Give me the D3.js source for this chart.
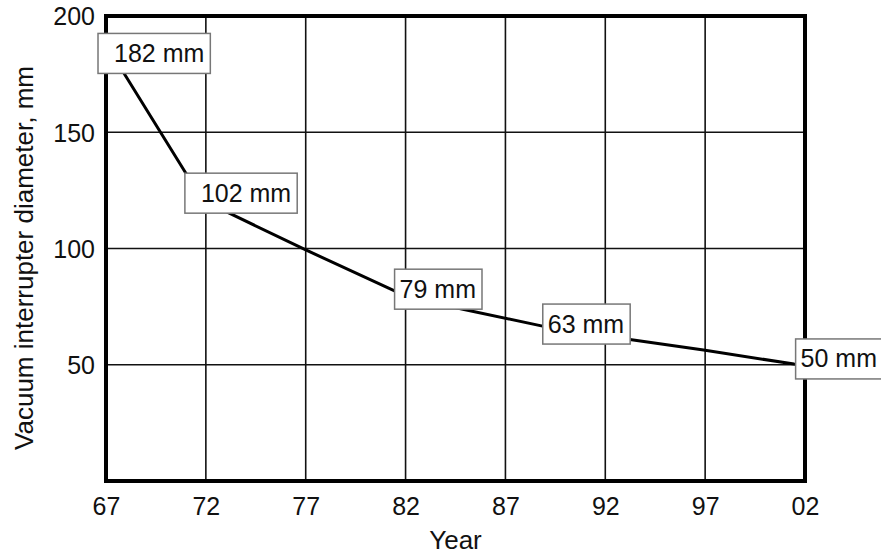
<!DOCTYPE html>
<html>
<head>
<meta charset="utf-8">
<script src="https://cdn.jsdelivr.net/npm/d3@7"></script>
<style>
  html, body { margin: 0; padding: 0; background: #fff; }
  svg { display: block; }
  text { font-family: "Liberation Sans", Arial, Helvetica, sans-serif; fill: #111; }
</style>
</head>
<body>
<svg id="chart" width="881" height="554"></svg>
<script>
// ---- data ----
const xTickYears = [67, 72, 77, 82, 87, 92, 97, 102];
const xTickLabels = ["67", "72", "77", "82", "87", "92", "97", "02"];
const yTickValues = [50, 100, 150, 200];

// curve (year, diameter mm)
const curveYears  = [67.35, 71.0, 72.05, 73.12, 76.95, 81.45, 82.95, 84.87, 88.86, 93.23, 96.92, 101.45, 102];
const curveValues = [183,   132.4, 122.5, 115.4, 99.6,  81.8,  77.5,  73.9,  66.6,  60.9,  56.3,  50.3,  50];

// annotation labels: text, anchor (left edge year, vertical centre value)
const labelTexts  = ["182 mm", "102 mm", "79 mm", "63 mm", "50 mm"];
const labelYears  = [66.6, 70.95, 81.45, 88.87, 101.53];
const labelValues = [183.9, 123.8, 82.5, 67.5, 52.5];
const labelPadLeft = [16, 16, 5, 5, 5];

const xTitle = "Year";
const yTitle = "Vacuum interrupter diameter, mm";

// ---- layout ----
const svg = d3.select("#chart");
const mLeft = 106, mRight = 805, mTop = 16, mBottom = 481;

const x = d3.scaleLinear().domain([67, 102]).range([mLeft, mRight]);
const y = d3.scaleLinear().domain([0, 200]).range([mBottom, mTop]);

// grid lines
const grid = svg.append("g");
grid.selectAll("line.v").data(xTickYears.slice(1, -1)).join("line")
  .attr("class", "v")
  .attr("x1", d => x(d)).attr("x2", d => x(d))
  .attr("y1", mTop).attr("y2", mBottom)
  .attr("stroke", "#111").attr("stroke-width", 1.6);
grid.selectAll("line.h").data(yTickValues.slice(0, -1)).join("line")
  .attr("class", "h")
  .attr("x1", mLeft).attr("x2", mRight)
  .attr("y1", d => y(d)).attr("y2", d => y(d))
  .attr("stroke", "#111").attr("stroke-width", 1.6);

// axes (labels only, via d3 axis)
const xAxis = svg.append("g").attr("transform", `translate(0,${mBottom})`)
  .call(d3.axisBottom(x).tickValues(xTickYears).tickSize(0).tickPadding(0)
    .tickFormat((d, i) => xTickLabels[i]));
xAxis.select(".domain").remove();
xAxis.selectAll("text").attr("dy", null).attr("y", 34)
  .style("font-size", "25px").style("font-family", "Liberation Sans, Arial, sans-serif").attr("fill", "#111");

const yAxis = svg.append("g").attr("transform", `translate(${mLeft},0)`)
  .call(d3.axisLeft(y).tickValues(yTickValues).tickSize(0).tickPadding(11));
yAxis.select(".domain").remove();
yAxis.selectAll("text").attr("dy", "0.35em")
  .style("font-size", "25px").style("font-family", "Liberation Sans, Arial, sans-serif").attr("fill", "#111");

// curve
const pts = curveYears.map((yr, i) => [yr, curveValues[i]]);
svg.append("path")
  .datum(pts)
  .attr("d", d3.line().x(d => x(d[0])).y(d => y(d[1])).curve(d3.curveLinear))
  .attr("fill", "none").attr("stroke", "#000").attr("stroke-width", 3)
  .attr("stroke-linejoin", "round");

// frame
svg.append("rect")
  .attr("x", mLeft).attr("y", mTop)
  .attr("width", mRight - mLeft).attr("height", mBottom - mTop)
  .attr("fill", "none").attr("stroke", "#000").attr("stroke-width", 4);

// annotation boxes
const boxH = 40;
labelTexts.forEach((t, i) => {
  const g = svg.append("g");
  const bx = x(labelYears[i]);
  const by = y(labelValues[i]) - boxH / 2;
  const rect = g.append("rect").attr("fill", "#fff").attr("stroke", "#777").attr("stroke-width", 1.5);
  const txt = g.append("text")
    .attr("x", bx + labelPadLeft[i]).attr("y", by + 28.5)
    .style("font-size", "25px").text(t);
  const w = txt.node().getComputedTextLength();
  rect.attr("x", bx).attr("y", by).attr("width", labelPadLeft[i] + w + 6).attr("height", boxH);
});

// titles
svg.append("text")
  .attr("x", (mLeft + mRight) / 2).attr("y", 549)
  .attr("text-anchor", "middle").style("font-size", "26px").text(xTitle);
svg.append("text")
  .attr("transform", `translate(33,258) rotate(-90)`)
  .attr("text-anchor", "middle").style("font-size", "26px").text(yTitle);
</script>
</body>
</html>
